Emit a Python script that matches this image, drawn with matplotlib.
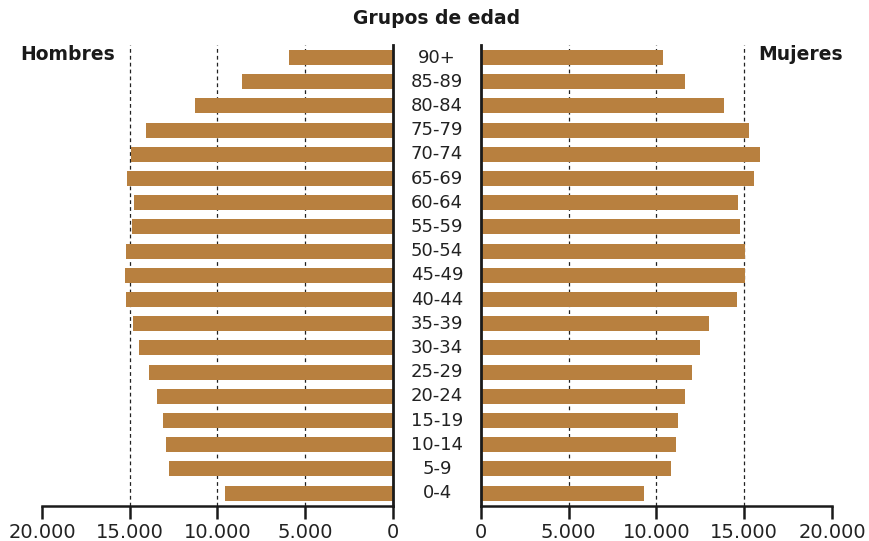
import matplotlib.pyplot as plt
import numpy as np

# grupos de edad, de menor a mayor
grupos = ["0-4", "5-9", "10-14", "15-19", "20-24", "25-29", "30-34", "35-39",
          "40-44", "45-49", "50-54", "55-59", "60-64", "65-69", "70-74",
          "75-79", "80-84", "85-89", "90+"]

hombres = [9550, 12750, 12930, 13120, 13470, 13880, 14450, 14830,
           15210, 15290, 15210, 14870, 14760, 15140, 14950,
           14050, 11260, 8580, 5900]

mujeres = [9280, 10820, 11120, 11250, 11650, 12020, 12460, 13000,
           14600, 15030, 15030, 14730, 14650, 15560, 15890,
           15280, 13870, 11600, 10360]

ticks = [0, 5000, 10000, 15000, 20000]
tick_labels = ["0", "5.000", "10.000", "15.000", "20.000"]
guias = [5000, 10000, 15000]

color_barra = "#b8803f"
negro = "#1a1a1a"

fig = plt.figure(figsize=(8.7, 5.41), dpi=100)
ax_h = fig.add_axes([42 / 870, 1 - 506 / 541, 351 / 870, 461 / 541])
ax_m = fig.add_axes([481 / 870, 1 - 506 / 541, 351 / 870, 461 / 541])

y = np.arange(len(grupos))

for ax, datos in ((ax_h, hombres), (ax_m, mujeres)):
    ax.barh(y, datos, height=0.62, color=color_barra, zorder=2)
    for g in guias:
        ax.axvline(g, color="#222222", lw=0.9, ls=(0, (3, 2.5)), zorder=1)
    ax.set_xlim(0, 20000)
    ax.set_ylim(-0.53, len(grupos) - 0.48)
    ax.set_yticks([])
    ax.set_xticks(ticks)
    ax.set_xticklabels(tick_labels)
    ax.tick_params(axis="x", direction="out", length=9, width=1.8,
                   color=negro, labelsize=14, labelcolor="#222222", pad=3)
    for lado in ("top", "left", "right"):
        ax.spines[lado].set_visible(False)
    ax.spines["bottom"].set_linewidth(1.8)
    ax.spines["bottom"].set_color(negro)

# lado de hombres invertido, eje cero a la derecha
ax_h.invert_xaxis()
ax_h.spines["right"].set_visible(True)
ax_h.spines["right"].set_linewidth(2)
ax_h.spines["right"].set_color(negro)
ax_m.spines["left"].set_visible(True)
ax_m.spines["left"].set_linewidth(2)
ax_m.spines["left"].set_color(negro)

# etiquetas de edad en el centro
for i, g in enumerate(grupos):
    yy = ax_h.transData.transform((0, i))[1]
    fig.text(437 / 870, yy / fig.dpi / fig.get_figheight(), g, ha="center",
             va="center", fontsize=13, color="#222222")

fig.text(437 / 870, 1 - 19 / 541, "Grupos de edad", ha="center", va="center",
         fontsize=13.5, fontweight="bold", color=negro)
fig.text(20 / 870, 1 - 54 / 541, "Hombres", ha="left", va="center",
         fontsize=13.5, fontweight="bold", color=negro)
fig.text(843 / 870, 1 - 54 / 541, "Mujeres", ha="right", va="center",
         fontsize=13.5, fontweight="bold", color=negro)

fig.savefig("out.png", dpi=100)
